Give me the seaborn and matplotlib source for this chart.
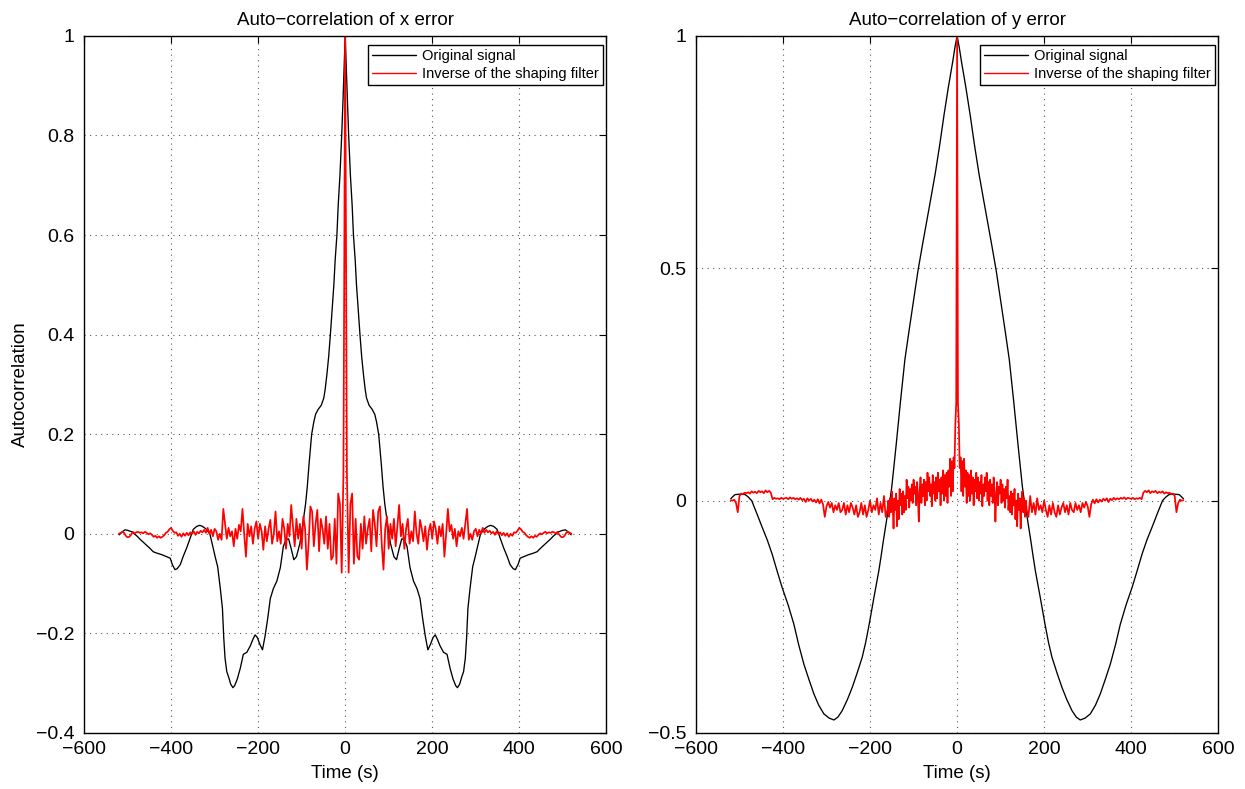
"""
plot.py — auto-correlation of x / y error, original vs. whitened signal
"""

import matplotlib
matplotlib.use("Agg")
import matplotlib.pyplot as plt
import numpy as np
import pandas as pd
import seaborn as sns
from matplotlib.ticker import FuncFormatter


# ─── Data (positive lags only, autocorrelation is symmetric) ─────────────────

# x error, original signal
x_orig_lag = [0, 2, 5, 8, 12, 16, 19, 23, 26, 30, 34, 38, 42, 46, 49, 55, 62, 68,
              72, 77, 80, 83, 87, 91, 96, 104, 112, 118, 124, 130, 136, 142, 149,
              157, 165, 172, 178, 184, 190, 196, 202, 207, 212, 218, 226, 234, 241,
              248, 254, 258, 263, 268, 272, 276, 279, 282, 287, 293, 299, 305, 311,
              320, 328, 334, 341, 349, 356, 364, 372, 379, 386, 391, 397, 402, 410,
              421, 432, 441, 450, 460, 470, 479, 490, 500, 506, 512, 519]
x_orig_val = [1.0, 0.95, 0.87, 0.80, 0.72, 0.66, 0.60, 0.55, 0.50, 0.45, 0.40, 0.355,
              0.32, 0.29, 0.273, 0.258, 0.25, 0.24, 0.225, 0.20, 0.17, 0.14, 0.095,
              0.06, 0.028, -0.019, -0.046, -0.052, -0.03, -0.01, -0.012, -0.025,
              -0.068, -0.095, -0.11, -0.13, -0.17, -0.205, -0.233, -0.222, -0.208,
              -0.203, -0.212, -0.225, -0.238, -0.242, -0.27, -0.292, -0.305, -0.309,
              -0.302, -0.287, -0.277, -0.25, -0.209, -0.15, -0.109, -0.066, -0.045,
              -0.022, 0.0, 0.01, 0.015, 0.017, 0.015, 0.009, -0.008, -0.028, -0.045,
              -0.062, -0.07, -0.072, -0.062, -0.049, -0.046, -0.042, -0.039, -0.036,
              -0.028, -0.02, -0.012, -0.004, 0.004, 0.007, 0.008, 0.004, -0.002]

# x error, inverse of the shaping filter (lags 0..520, every 4 s)
x_filt_lag = np.arange(0, 524, 4)
x_filt_val = [1.0, 0.12, -0.078, 0.06, 0.081, -0.06, 0.03, -0.045, -0.052, 0.02,
              -0.03, 0.035, -0.02, 0.01, 0.03, -0.035, 0.048, 0.02, -0.025, 0.045,
              0.055, -0.02, -0.072, 0.01, 0.035, -0.03, 0.02, -0.01, 0.03, -0.025,
              0.015, 0.058, -0.005, 0.02, -0.03, 0.01, 0.03, -0.02, 0.005, -0.015,
              0.045, 0.0, -0.02, 0.028, 0.01, -0.015, 0.015, -0.032, 0.005, 0.02,
              -0.01, 0.025, 0.01, -0.02, 0.015, -0.005, 0.02, -0.046, 0.0, 0.05,
              0.005, 0.018, -0.01, 0.01, -0.025, 0.005, -0.005, 0.012, -0.01, 0.02,
              0.05, -0.012, 0.0, -0.012, 0.005, 0.01, -0.005, 0.008, 0.0, 0.012,
              0.002, 0.008, 0.003, 0.006, 0.001, 0.004, -0.002, 0.005, 0.0, 0.003,
              -0.003, 0.002, -0.004, 0.001, -0.006, 0.0, -0.004, 0.003, 0.002, 0.006,
              0.012, 0.009, 0.004, 0.002, -0.003, -0.006, -0.008, -0.005, -0.008,
              -0.004, -0.006, -0.002, 0.001, -0.001, 0.002, 0.004, 0.001, 0.003,
              0.002, 0.004, 0.003, 0.001, 0.004, -0.002, -0.006, -0.007, -0.004,
              0.002, 0.004, 0.002, 0.0]

# y error, original signal
y_orig_lag = [0, 5, 10, 20, 30, 40, 50, 60, 70, 80, 90, 100, 110, 120, 130, 140, 150,
              155, 160, 165, 170, 175, 180, 191, 202, 210, 218, 230, 241, 252, 264,
              274, 283, 294, 306, 318, 329, 340, 352, 364, 375, 388, 402, 414, 425,
              436, 448, 460, 472, 480, 487, 498, 510, 516, 520]
y_orig_val = [1.0, 0.975, 0.945, 0.89, 0.83, 0.765, 0.705, 0.652, 0.60, 0.548, 0.494,
              0.431, 0.368, 0.303, 0.214, 0.12, 0.03, -0.005, -0.03, -0.06, -0.09,
              -0.122, -0.152, -0.208, -0.266, -0.305, -0.337, -0.372, -0.402, -0.428,
              -0.452, -0.466, -0.472, -0.468, -0.459, -0.44, -0.416, -0.386, -0.352,
              -0.31, -0.266, -0.225, -0.187, -0.15, -0.115, -0.085, -0.057, -0.028,
              0.0, 0.008, 0.013, 0.014, 0.013, 0.008, 0.004]

# y error, inverse of the shaping filter: every 2 s up to 160 s, then every 4 s
y_filt_lag = np.concatenate([np.arange(0, 162, 2), np.arange(164, 524, 4)])
y_filt_val = [1.0, 0.21, 0.166, 0.07, 0.093, 0.02, 0.085, 0.01, 0.09, 0.03,
              0.065, -0.005, 0.06, 0.01, 0.055, 0.0, 0.065, 0.015, 0.05, -0.01,
              0.045, 0.02, 0.06, 0.005, 0.05, 0.0, 0.04, 0.015, 0.055, -0.012,
              0.035, 0.01, 0.05, 0.02, 0.06, 0.0, 0.04, -0.01, 0.045, 0.01,
              0.035, -0.005, 0.05, 0.02, -0.045, 0.01, 0.04, -0.01, 0.03, 0.015,
              0.045, -0.005, 0.035, 0.0, 0.025, -0.015, 0.03, 0.005, 0.045, -0.02,
              0.01, -0.025, 0.02, -0.03, 0.015, -0.01, 0.025, -0.04, 0.0, -0.055,
              0.015, -0.02, 0.005, -0.06, -0.01, 0.02, -0.025, 0.005, -0.035, 0.0,
              -0.02,
              # 164 s onwards
              -0.035, 0.01, -0.025, -0.005, -0.03, 0.005, -0.02, -0.01, -0.025, 0.0,
              -0.02, -0.035, -0.01, -0.03, -0.005, -0.025, -0.035, -0.01, -0.03, -0.015,
              -0.005, -0.025, -0.01, -0.03, -0.005, -0.02, -0.025, -0.005, -0.02, -0.01,
              -0.025, -0.005, -0.015, -0.003, -0.012, -0.035, -0.008, 0.002, -0.006, 0.003,
              -0.004, 0.002, -0.002, 0.004, 0.0, 0.005, -0.003, 0.004, 0.001, 0.006,
              0.002, 0.005, 0.003, 0.006, 0.004, 0.007, 0.003, 0.006, 0.005, 0.004,
              0.006, 0.003, 0.005, 0.004, 0.006, 0.003, 0.017, 0.021, 0.018, 0.022,
              0.016, 0.02, 0.018, 0.021, 0.016, 0.019, 0.017, 0.02, 0.015, 0.018,
              0.016, 0.017, 0.014, 0.015, 0.01, -0.025, -0.005, 0.002, 0.0, 0.001]

titles = ["Auto\u2212correlation of x error", "Auto\u2212correlation of y error"]
y_limits = [(-0.4, 1.0), (-0.5, 1.0)]
y_ticks = [[-0.4, -0.2, 0, 0.2, 0.4, 0.6, 0.8, 1], [-0.5, 0, 0.5, 1]]
x_ticks = [-600, -400, -200, 0, 200, 400, 600]
legend_labels = ["Original signal", "Inverse of the shaping filter"]


# ─── Helpers ─────────────────────────────────────────────────────────────────

def mirror(lags, vals):
    """Build the two-sided sequence from the positive-lag half."""
    lags = np.asarray(lags, dtype=float)
    vals = np.asarray(vals, dtype=float)
    return (np.concatenate([-lags[:0:-1], lags]),
            np.concatenate([vals[:0:-1], vals]))


def frame(lags, vals, label):
    t, v = mirror(lags, vals)
    return pd.DataFrame({"Time (s)": t, "Autocorrelation": v, "series": label})


def tick_fmt(v, _pos):
    return f"{v:g}".replace("-", "\u2212")


# ─── Plot ────────────────────────────────────────────────────────────────────

sns.set_style("white")
plt.rcParams["font.family"] = ["Liberation Sans", "DejaVu Sans"]
plt.rcParams["axes.unicode_minus"] = True
plt.rcParams["text.color"] = "black"
plt.rcParams["axes.labelcolor"] = "black"

fig = plt.figure(figsize=(12.45, 7.89), dpi=100)
ax_l = fig.add_axes([0.0675, 0.071, 0.4195, 0.8835])
ax_r = fig.add_axes([0.559, 0.071, 0.4195, 0.8835])

panels = [
    (ax_l, frame(x_orig_lag, x_orig_val, legend_labels[0]),
     frame(x_filt_lag, x_filt_val, legend_labels[1])),
    (ax_r, frame(y_orig_lag, y_orig_val, legend_labels[0]),
     frame(y_filt_lag, y_filt_val, legend_labels[1])),
]

for i, (ax, df_o, df_f) in enumerate(panels):
    df = pd.concat([df_o, df_f], ignore_index=True)
    sns.lineplot(data=df, x="Time (s)", y="Autocorrelation", hue="series",
                 palette={legend_labels[0]: "black", legend_labels[1]: "red"},
                 estimator=None, sort=False, units="series", ax=ax,
                 linewidth=1.0)
    for line, lw in zip(ax.get_lines(), [0.95, 1.25]):
        line.set_linewidth(lw)

    ax.set_xlim(-600, 600)
    ax.set_ylim(*y_limits[i])
    ax.set_xticks(x_ticks)
    ax.set_yticks(y_ticks[i])
    ax.xaxis.set_major_formatter(FuncFormatter(tick_fmt))
    ax.yaxis.set_major_formatter(FuncFormatter(tick_fmt))
    ax.tick_params(direction="in", length=5, width=0.8, labelsize=14,
                   top=True, right=True, colors="black")
    ax.tick_params(axis="x", pad=6)
    ax.tick_params(axis="y", pad=7)
    ax.grid(True, color="0.35", linestyle=(0, (1, 4)), linewidth=0.8)
    for sp in ax.spines.values():
        sp.set_color("black")
        sp.set_linewidth(1.0)
    ax.set_title(titles[i], fontsize=13.5, pad=8, color="black")
    ax.set_xlabel("Time (s)", fontsize=13.5, labelpad=5)
    ax.set_ylabel("Autocorrelation" if i == 0 else "", fontsize=13.5, labelpad=5)

    leg = ax.legend(loc="upper right", bbox_to_anchor=(0.994, 0.987),
                    borderaxespad=0.0, fontsize=10.5, frameon=True, fancybox=False,
                    handlelength=3.0, handletextpad=0.4, borderpad=0.3,
                    labelspacing=0.25)
    leg.get_frame().set_edgecolor("black")
    leg.get_frame().set_linewidth(1.0)
    leg.get_frame().set_alpha(1.0)
    for txt in leg.get_texts():
        txt.set_color("black")

fig.savefig("out.png", dpi=100)
